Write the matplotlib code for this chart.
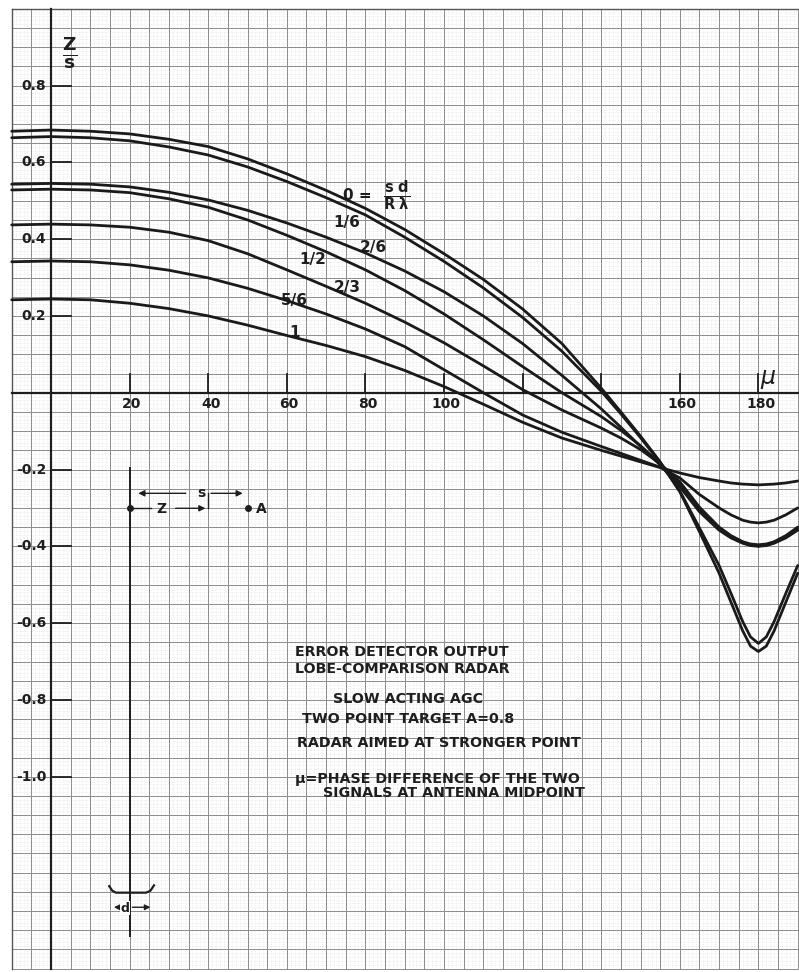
import matplotlib
matplotlib.use("Agg")
import matplotlib.pyplot as plt

# phase difference mu (degrees) at which the curves were read
MU = [-10, 0, 10, 20, 30, 40, 50, 60, 70, 80, 90, 100, 110, 120, 130, 140,
      145, 150, 155, 160, 165, 170, 173, 176, 178, 180, 182, 184, 187, 190]

# Z/s for each a = sd / (R lambda)
Z_A0 = [0.681, 0.684, 0.681, 0.674, 0.660, 0.641, 0.609, 0.570, 0.527, 0.480, 0.425,
        0.362, 0.295, 0.218, 0.128, 0.012, -0.050, -0.113, -0.180, -0.258, -0.362,
        -0.470, -0.545, -0.620, -0.660, -0.674, -0.660, -0.620, -0.545, -0.470]
Z_A1_6 = [0.664, 0.667, 0.664, 0.656, 0.640, 0.619, 0.588, 0.550, 0.508, 0.463, 0.405,
          0.342, 0.273, 0.196, 0.108, 0.004, -0.055, -0.117, -0.182, -0.256, -0.352,
          -0.450, -0.522, -0.596, -0.636, -0.653, -0.636, -0.596, -0.522, -0.450]
Z_A2_6 = [0.543, 0.545, 0.543, 0.536, 0.522, 0.502, 0.475, 0.442, 0.405, 0.364, 0.317,
          0.263, 0.200, 0.128, 0.045, -0.042, -0.090, -0.140, -0.188, -0.245, -0.310,
          -0.358, -0.378, -0.392, -0.398, -0.400, -0.398, -0.392, -0.378, -0.358]
Z_A1_2 = [0.528, 0.530, 0.528, 0.521, 0.505, 0.483, 0.450, 0.410, 0.367, 0.320, 0.266,
          0.205, 0.138, 0.068, 0.000, -0.062, -0.098, -0.138, -0.185, -0.240, -0.305,
          -0.353, -0.375, -0.390, -0.397, -0.399, -0.397, -0.390, -0.375, -0.353]
Z_A2_3 = [0.437, 0.439, 0.437, 0.431, 0.418, 0.396, 0.362, 0.320, 0.277, 0.233, 0.184,
          0.130, 0.070, 0.008, -0.045, -0.092, -0.118, -0.148, -0.185, -0.232, -0.298,
          -0.350, -0.372, -0.388, -0.394, -0.396, -0.394, -0.388, -0.372, -0.350]
Z_A5_6 = [0.341, 0.343, 0.341, 0.333, 0.319, 0.299, 0.272, 0.240, 0.205, 0.166, 0.120,
          0.060, 0.000, -0.058, -0.103, -0.140, -0.158, -0.176, -0.194, -0.222, -0.265,
          -0.300, -0.318, -0.332, -0.337, -0.339, -0.337, -0.332, -0.318, -0.300]
Z_A1 = [0.242, 0.244, 0.242, 0.233, 0.219, 0.200, 0.176, 0.149, 0.123, 0.094, 0.058,
        0.016, -0.030, -0.077, -0.118, -0.150, -0.165, -0.180, -0.195, -0.209, -0.221,
        -0.230, -0.235, -0.238, -0.239, -0.240, -0.239, -0.238, -0.235, -0.230]

CURVES = [Z_A0, Z_A1_6, Z_A2_6, Z_A1_2, Z_A2_3, Z_A5_6, Z_A1]

X_TICK_LABELS = [20, 40, 60, 80, 100, 160, 180]
X_TICKS = [20, 40, 60, 80, 100, 120, 140, 160, 180]
Y_TICKS = [0.8, 0.6, 0.4, 0.2, -0.2, -0.4, -0.6, -0.8, -1.0]

NOTES = ["ERROR DETECTOR OUTPUT", "LOBE-COMPARISON RADAR", "SLOW ACTING AGC",
         "TWO POINT TARGET A=0.8", "RADAR AIMED AT STRONGER POINT",
         "\u03bc=PHASE DIFFERENCE OF THE TWO", "SIGNALS AT ANTENNA MIDPOINT"]

INK = "#1e1e1e"

fig = plt.figure(figsize=(7.99, 9.72), dpi=100)
ax = fig.add_axes([0, 0, 1, 1])
ax.set_xlim(-12.98, 190.33)
ax.set_ylim(-1.5086, 1.0227)
ax.axis("off")

# graph paper
fine_x = [x for x in range(-10, 191) if x % 5]
fine_y = [i / 100 for i in range(-150, 101) if i % 5]
ax.vlines(fine_x, -1.5, 1.0, colors="#d2d2d2", linewidth=0.4, linestyles=(0, (1, 2.2)), zorder=0)
ax.hlines(fine_y, -10, 191, colors="#d2d2d2", linewidth=0.4, linestyles=(0, (1, 2.2)), zorder=0)
ax.vlines(range(-10, 191, 5), -1.5, 1.0, colors="#8c8c8c", linewidth=0.7, zorder=1)
ax.hlines([i / 20 for i in range(-30, 21)], -10, 191, colors="#8c8c8c", linewidth=0.7, zorder=1)
ax.plot([-10, -10], [-1.5, 1.0], color="#555555", lw=1.0, zorder=1)
ax.plot([-10, 191], [1.0, 1.0], color="#555555", lw=1.0, zorder=1)

# axes
ax.plot([-10, 191], [0, 0], color=INK, lw=1.6, zorder=3)
ax.plot([0, 0], [-1.5, 1.0], color=INK, lw=1.6, zorder=3)
for xt in X_TICKS:
    ax.plot([xt, xt], [0, 0.05], color=INK, lw=1.3, zorder=3)
for yt in Y_TICKS:
    ax.plot([0, 5], [yt, yt], color=INK, lw=1.3, zorder=3)
    ax.text(-1.2, yt, f"{yt:.1f}", ha="right", va="center", fontsize=10,
            fontweight="bold", color=INK)
for xl in X_TICK_LABELS:
    ax.text(xl + 0.6, -0.03, str(xl), ha="center", va="center", fontsize=10,
            fontweight="bold", color=INK)

ax.text(4.8, 0.885, r"$\mathbf{\frac{Z}{s}}$", ha="center", va="center", fontsize=19, color=INK)
ax.text(182.5, 0.035, r"$\mu$", ha="center", va="center", fontsize=17, color=INK)

# curves
for z in CURVES:
    ax.plot(MU, z, color="#1a1a1a", lw=2.0, solid_capstyle="round",
            solid_joinstyle="round", zorder=4)

ax.text(78.0, 0.513, "0 =", ha="center", va="center", fontsize=11, fontweight="bold", color=INK)
ax.text(88.0, 0.513, r"$\mathbf{\frac{s\ d}{R\ \lambda}}$", ha="center", va="center", fontsize=15, color=INK)
ax.text(75.3, 0.444, "1/6", ha="center", va="center", fontsize=11, fontweight="bold", color=INK)
ax.text(81.9, 0.377, "2/6", ha="center", va="center", fontsize=11, fontweight="bold", color=INK)
ax.text(66.7, 0.346, "1/2", ha="center", va="center", fontsize=11, fontweight="bold", color=INK)
ax.text(75.3, 0.275, "2/3", ha="center", va="center", fontsize=11, fontweight="bold", color=INK)
ax.text(61.8, 0.241, "5/6", ha="center", va="center", fontsize=11, fontweight="bold", color=INK)
ax.text(62.1, 0.156, "1", ha="center", va="center", fontsize=11, fontweight="bold", color=INK)

# two point target sketch
ax.plot([20, 20], [-0.195, -1.415], color=INK, lw=1.4, zorder=3)
ax.annotate("", xy=(21.5, -0.262), xytext=(35, -0.262),
            arrowprops=dict(arrowstyle="-|>", color=INK, lw=1.0, mutation_scale=9))
ax.annotate("", xy=(49.5, -0.262), xytext=(40, -0.262),
            arrowprops=dict(arrowstyle="-|>", color=INK, lw=1.0, mutation_scale=9))
ax.text(38.2, -0.262, "s", ha="center", va="center", fontsize=10, fontweight="bold", color=INK)
ax.plot([20, 25.5], [-0.301, -0.301], color=INK, lw=1.0)
ax.annotate("", xy=(40, -0.301), xytext=(31, -0.301),
            arrowprops=dict(arrowstyle="-|>", color=INK, lw=1.0, mutation_scale=9))
ax.plot([40, 40], [-0.26, -0.301], color=INK, lw=1.0)
ax.text(28.2, -0.303, "Z", ha="center", va="center", fontsize=10, fontweight="bold", color=INK)
ax.plot([20, 50], [-0.301, -0.301], "o", color=INK, ms=4)
ax.text(53.6, -0.303, "A", ha="center", va="center", fontsize=10, fontweight="bold", color=INK)

ax.plot([14.8, 15.6, 16.5, 24.2, 25.3, 26.2], [-1.285, -1.297, -1.302, -1.302, -1.297, -1.283],
        color=INK, lw=1.6)
ax.annotate("", xy=(15.3, -1.34), xytext=(19, -1.34),
            arrowprops=dict(arrowstyle="-|>", color=INK, lw=1.0, mutation_scale=8))
ax.annotate("", xy=(26.0, -1.34), xytext=(20, -1.34),
            arrowprops=dict(arrowstyle="-|>", color=INK, lw=1.0, mutation_scale=8))
ax.text(18.8, -1.342, "d", ha="center", va="center", fontsize=9, fontweight="bold", color=INK,
        bbox=dict(facecolor="white", edgecolor="none", pad=0.2))

# notes
note_pos = [(62.1, -0.675), (62.1, -0.720), (71.8, -0.798), (63.9, -0.850),
            (62.6, -0.912), (62.1, -1.006), (69.2, -1.043)]
for txt, (xn, yn) in zip(NOTES, note_pos):
    ax.text(xn, yn, txt, ha="left", va="center", fontsize=10.3, fontweight="bold", color=INK)

fig.savefig("out.png", dpi=100, facecolor="white")
